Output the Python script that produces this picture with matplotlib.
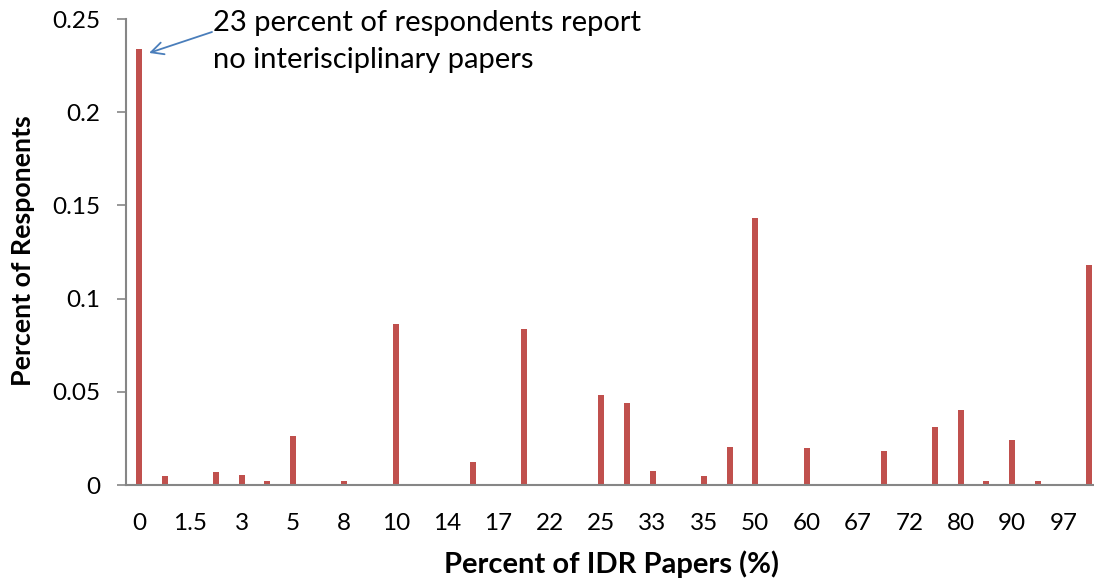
import matplotlib
matplotlib.use("Agg")
import matplotlib.pyplot as plt
import numpy as np

plt.rcParams['font.family'] = ['Lato', 'DejaVu Sans']

categories = ["0", "1", "1.5", "2", "3", "4", "5", "7", "8", "9", "10", "12", "14", "15",
              "17", "20", "22", "24", "25", "30", "33", "34", "35", "40", "50", "55", "60",
              "65", "67", "70", "72", "75", "80", "85", "90", "95", "97", "100"]
values = [0.234, 0.0048, 0.0, 0.0068, 0.0056, 0.0023, 0.0261, 0.0, 0.0023, 0.0, 0.0866,
          0.0, 0.0, 0.0126, 0.0, 0.0839, 0.0, 0.0, 0.0482, 0.0442, 0.0077, 0.0, 0.0049,
          0.0202, 0.1435, 0.0, 0.0196, 0.0, 0.0, 0.0184, 0.0, 0.0312, 0.0402, 0.0023,
          0.0243, 0.0023, 0.0, 0.118]
y_ticks = [0, 0.05, 0.1, 0.15, 0.2, 0.25]
y_ticklabels = ["0", "0.05", "0.1", "0.15", "0.2", "0.25"]
note_lines = ["23 percent of respondents report", "no interisciplinary papers"]

bar_color = "#C0504D"
axis_color = "#868686"

W, H = 1094, 584
fig = plt.figure(figsize=(W / 100, H / 100), dpi=100)
ax = fig.add_axes([126 / W, 99 / H, 976 / W, 466 / H])

x = np.arange(len(categories))
ax.bar(x, values, width=0.235, color=bar_color, edgecolor="none")

ax.set_xlim(-0.5, len(categories) - 0.5)
ax.set_ylim(0, 0.25)
ax.set_yticks(y_ticks)
ax.set_yticklabels(y_ticklabels, fontsize=17.5)
ax.set_xticks(x[::2])
ax.set_xticklabels(categories[::2], fontsize=17.5)

for s in ["top", "right"]:
    ax.spines[s].set_visible(False)
for s in ["left", "bottom"]:
    ax.spines[s].set_color(axis_color)
    ax.spines[s].set_linewidth(1.5)
ax.tick_params(axis="y", direction="out", length=6.5, width=1.2, color=axis_color, pad=12)
ax.tick_params(axis="x", length=0, pad=20)

ax.set_ylabel("Percent of Responents", fontsize=19.3, fontweight="bold")
ax.yaxis.set_label_coords((23 - 126) / 976, (485 - 251) / 466)
ax.yaxis.label.set_va("center")
ax.yaxis.label.set_ha("center")
ax.set_xlabel("Percent of IDR Papers (%)", fontsize=21, fontweight="bold")
ax.xaxis.set_label_coords((611 - 126) / 976, (485 - 564) / 466)
ax.xaxis.label.set_va("center")

# annotation text and arrow
fig.text(213 / W, 1 - 31 / H, note_lines[0], fontsize=21, ha="left", va="baseline")
fig.text(213 / W, 1 - 68 / H, note_lines[1], fontsize=21, ha="left", va="baseline")
ax.annotate("", xy=(0.4, 0.2318), xycoords="data",
            xytext=(212 / W, 1 - 32 / H), textcoords="figure fraction",
            arrowprops=dict(arrowstyle="->", color="#4A7EBB", lw=1.3,
                            shrinkA=0, shrinkB=0, mutation_scale=22))

fig.savefig("out.png", dpi=100)
